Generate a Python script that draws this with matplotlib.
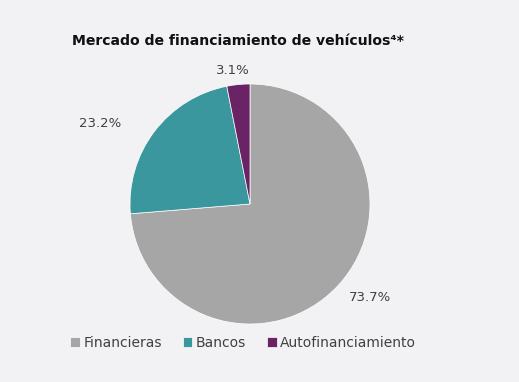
import matplotlib
matplotlib.use("Agg")
import matplotlib.pyplot as plt
import numpy as np

categories = ["Financieras", "Bancos", "Autofinanciamiento"]
values = [73.7, 23.2, 3.1]
colors = ["#a6a6a6", "#3a979e", "#6a2466"]
title = "Mercado de financiamiento de vehículos⁴*"

bg = "#f2f2f4"
plt.rcParams['font.family'] = ['DejaVu Sans']

fig = plt.figure(figsize=(5.19, 3.82), dpi=100, facecolor=bg)
ax = fig.add_axes([130/519, (382-324)/382, 240/519, 240/382])
ax.set_facecolor(bg)

wedges, texts, autotexts = ax.pie(values, colors=colors, startangle=90, counterclock=False,
                                  autopct=lambda p: f"{p:.1f}%", pctdistance=1.2,
                                  wedgeprops=dict(edgecolor="white", linewidth=0.5),
                                  textprops=dict(color="#404040", fontsize=9.5))
# label positions (in radius units)
pos = [(1.0, -0.78), (-1.25, 0.67), (-0.14, 1.11)]
for t, p in zip(autotexts, pos):
    t.set_position(p)
ax.set_aspect("equal")
ax.set_xlim(-1, 1)
ax.set_ylim(-1, 1)
ax.axis("off")

fig.text(72/519, 1-41/382, title, fontsize=10.1, fontweight="bold", color="#111111",
         ha="left", va="center")

leg = fig.legend(wedges, categories, loc="center", bbox_to_anchor=(243/519, 1-343/382),
                 ncol=3, frameon=False, fontsize=10, handlelength=0.7, handleheight=0.7,
                 handletextpad=0.25, columnspacing=1.5, labelcolor="#404040")

fig.savefig("out.png", dpi=100, facecolor=bg)
